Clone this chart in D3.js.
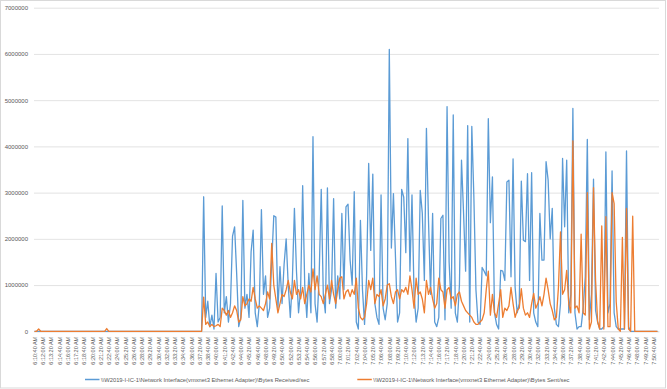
<!DOCTYPE html>
<html>
<head>
<meta charset="utf-8">
<script src="https://cdn.jsdelivr.net/npm/d3@7"></script>
<style>
  body { margin: 0; background: #fff; }
  svg { display: block; font-family: "Liberation Sans", Arial, sans-serif; }
</style>
</head>
<body>
<div id="chart"></div>
<script>
// one label every 80 s, samples every 20 s starting at 6:10:40 AM
var tickLabels = [
  "6:10:40 AM", "6:12:00 AM", "6:13:20 AM", "6:14:40 AM", "6:16:00 AM", "6:17:20 AM", "6:18:40 AM", "6:20:00 AM",
  "6:21:20 AM", "6:22:40 AM", "6:24:00 AM", "6:25:20 AM", "6:26:40 AM", "6:28:00 AM", "6:29:20 AM", "6:30:40 AM",
  "6:32:00 AM", "6:33:20 AM", "6:34:40 AM", "6:36:00 AM", "6:37:20 AM", "6:38:40 AM", "6:40:00 AM", "6:41:20 AM",
  "6:42:40 AM", "6:44:00 AM", "6:45:20 AM", "6:46:40 AM", "6:48:00 AM", "6:49:20 AM", "6:50:40 AM", "6:52:00 AM",
  "6:53:20 AM", "6:54:40 AM", "6:56:00 AM", "6:57:20 AM", "6:58:40 AM", "7:00:00 AM", "7:01:20 AM", "7:02:40 AM",
  "7:04:00 AM", "7:05:20 AM", "7:06:40 AM", "7:08:00 AM", "7:09:20 AM", "7:10:40 AM", "7:12:00 AM", "7:13:20 AM",
  "7:14:40 AM", "7:16:00 AM", "7:17:20 AM", "7:18:40 AM", "7:20:00 AM", "7:21:20 AM", "7:22:40 AM", "7:24:00 AM",
  "7:25:20 AM", "7:26:40 AM", "7:28:00 AM", "7:29:20 AM", "7:30:40 AM", "7:32:00 AM", "7:33:20 AM", "7:34:40 AM",
  "7:36:00 AM", "7:37:20 AM", "7:38:40 AM", "7:40:00 AM", "7:41:20 AM", "7:42:40 AM", "7:44:00 AM", "7:45:20 AM",
  "7:46:40 AM", "7:48:00 AM", "7:49:20 AM", "7:50:40 AM"
];
var labelStep = 80;   // seconds between labels
var sampleStep = 20;  // seconds between samples
var axisSeconds = 6060; // 606 ten-second categories on the axis

var yTicks = [0, 1000000, 2000000, 3000000, 4000000, 5000000, 6000000, 7000000];

var seriesNames = [
  "\\\\W2019-I-IC-1\\Network Interface(vmxnet3 Ethernet Adapter)\\Bytes Received/sec",
  "\\\\W2019-I-IC-1\\Network Interface(vmxnet3 Ethernet Adapter)\\Bytes Sent/sec"
];

var received = [
  0, 0, 0, 0, 0, 0, 0, 0, 0, 0,
  0, 0, 0, 0, 0, 0, 0, 0, 0, 0,
  0, 0, 0, 0, 0, 0, 0, 0, 0, 0,
  0, 0, 0, 0, 0, 0, 0, 0, 0, 0,
  0, 0, 0, 0, 0, 0, 0, 0, 0, 0,
  0, 0, 0, 0, 0, 0, 0, 0, 0, 0,
  0, 0, 0, 0, 0, 0, 0, 0, 0, 0,
  0, 0, 0, 0, 0, 0, 0, 0, 0, 0,
  0, 0, 2910000, 300000, 650000, 100000, 350000, 50000, 1250000, 200000,
  300000, 2710000, 400000, 750000, 200000, 600000, 2060000, 2260000, 1250000, 100000,
  300000, 2830000, 500000, 800000, 300000, 1720000, 2190000, 400000, 100000, 600000,
  2630000, 800000, 1200000, 300000, 500000, 1500000, 2500000, 2470000, 500000, 1400000,
  600000, 1450000, 2000000, 1000000, 300000, 1100000, 2660000, 1300000, 400000, 900000,
  3150000, 1000000, 300000, 1250000, 400000, 4210000, 600000, 200000, 1200000, 3070000,
  800000, 400000, 3100000, 600000, 900000, 2870000, 500000, 1200000, 700000, 2550000,
  900000, 2690000, 2750000, 1540000, 1000000, 3020000, 200000, 50000, 2400000, 900000,
  150000, 1200000, 3630000, 1750000, 3400000, 600000, 300000, 150000, 2950000, 500000,
  250000, 600000, 6100000, 1800000, 2980000, 1600000, 200000, 400000, 3070000, 2900000,
  1700000, 4170000, 1300000, 2950000, 800000, 200000, 500000, 3050000, 2550000, 1100000,
  4390000, 2400000, 800000, 2550000, 200000, 100000, 300000, 2440000, 2510000, 250000,
  4860000, 1500000, 500000, 4680000, 400000, 200000, 1000000, 3700000, 2560000, 1300000,
  4450000, 200000, 4430000, 2900000, 900000, 200000, 150000, 1380000, 1300000, 1200000,
  4600000, 2350000, 3340000, 400000, 150000, 50000, 1320000, 1300000, 1100000, 3230000,
  3270000, 1180000, 3730000, 950000, 400000, 600000, 3250000, 1970000, 1940000, 3410000,
  1100000, 3430000, 400000, 200000, 100000, 2550000, 1540000, 1540000, 3670000, 3270000,
  2000000, 2660000, 500000, 150000, 100000, 600000, 3740000, 2260000, 3700000, 400000,
  800000, 4820000, 400000, 50000, 100000, 100000, 500000, 1180000, 4150000, 250000,
  800000, 3290000, 450000, 200000, 50000, 50000, 100000, 3880000, 400000, 600000,
  3470000, 400000, 100000, 50000, 50000, 50000, 50000, 3900000, 100000, 0,
  0, 0, 0, 0, 0, 0, 0, 0, 0, 0,
  0, 0, 0
];

var sent = [
  0, 0, 50000, 0, 0, 0, 0, 0, 0, 0,
  0, 0, 0, 0, 0, 0, 0, 0, 0, 0,
  0, 0, 0, 0, 0, 0, 0, 0, 0, 0,
  0, 0, 0, 0, 0, 60000, 0, 0, 0, 0,
  0, 0, 0, 0, 0, 0, 0, 0, 0, 0,
  0, 0, 0, 0, 0, 0, 0, 0, 0, 0,
  0, 0, 0, 0, 0, 0, 0, 0, 0, 0,
  0, 0, 0, 0, 0, 0, 0, 0, 0, 0,
  0, 0, 740000, 150000, 200000, 100000, 150000, 100000, 120000, 150000,
  100000, 500000, 450000, 350000, 450000, 300000, 400000, 550000, 450000, 200000,
  250000, 750000, 550000, 600000, 700000, 650000, 950000, 700000, 500000, 550000,
  500000, 450000, 600000, 850000, 700000, 1900000, 1000000, 700000, 400000, 600000,
  800000, 750000, 900000, 1100000, 850000, 700000, 1100000, 800000, 900000, 700000,
  950000, 600000, 800000, 1000000, 850000, 1350000, 900000, 1200000, 800000, 750000,
  600000, 800000, 1000000, 700000, 1100000, 800000, 600000, 900000, 1150000, 1180000,
  700000, 850000, 900000, 750000, 900000, 800000, 1150000, 500000, 300000, 250000,
  300000, 600000, 1100000, 900000, 1150000, 600000, 800000, 750000, 900000, 550000,
  700000, 1000000, 1030000, 750000, 600000, 850000, 900000, 700000, 900000, 850000,
  950000, 800000, 1200000, 900000, 500000, 1150000, 800000, 850000, 700000, 400000,
  1100000, 800000, 950000, 700000, 500000, 600000, 1150000, 900000, 850000, 500000,
  900000, 950000, 700000, 750000, 550000, 800000, 850000, 650000, 550000, 450000,
  400000, 350000, 300000, 200000, 150000, 150000, 200000, 250000, 400000, 900000,
  1300000, 350000, 800000, 400000, 300000, 600000, 900000, 300000, 500000, 450000,
  550000, 950000, 600000, 300000, 450000, 500000, 920000, 500000, 350000, 400000,
  300000, 600000, 820000, 500000, 600000, 750000, 550000, 800000, 1150000, 900000,
  600000, 450000, 250000, 300000, 950000, 2150000, 800000, 900000, 1320000, 600000,
  400000, 4120000, 500000, 550000, 400000, 2100000, 400000, 350000, 3000000, 50000,
  200000, 3110000, 1100000, 200000, 50000, 2280000, 50000, 2480000, 100000, 100000,
  3000000, 2760000, 640000, 50000, 0, 2030000, 50000, 2660000, 50000, 0,
  2490000, 0, 0, 0, 0, 0, 0, 0, 0, 0,
  0, 0, 0
];

var colors = ["#5B9BD5", "#ED7D31"];

var W = 667, H = 389;
var plot = {left: 34, right: 659, top: 7.7, bottom: 331.3};

var svg = d3.select("#chart")
  .append("svg")
    .attr("width", W)
    .attr("height", H);

svg.append("rect")
  .attr("x", 0).attr("y", 0)
  .attr("width", W).attr("height", H)
  .attr("fill", "#fff");

svg.append("rect")
  .attr("x", 0.5).attr("y", 0.5)
  .attr("width", W - 2).attr("height", H - 1.5)
  .attr("fill", "none")
  .attr("stroke", "#D9D9D9")
  .attr("stroke-width", 1);

var x = d3.scaleLinear().domain([-5, axisSeconds - 5]).range([plot.left, plot.right]);
var y = d3.scaleLinear().domain([0, 7000000]).range([plot.bottom, plot.top]);

// y axis + gridlines
var yAxis = svg.append("g")
  .attr("transform", "translate(" + plot.left + ",0)")
  .call(d3.axisLeft(y)
    .tickValues(yTicks)
    .tickSize(-(plot.right - plot.left))
    .tickPadding(6)
    .tickFormat(d3.format("d")));
yAxis.select(".domain").remove();
yAxis.selectAll("line").attr("stroke", "#D9D9D9").attr("stroke-width", 0.75);
yAxis.selectAll("text").attr("fill", "#595959").style("font-size", "6px");

// x axis with rotated time labels
var labelSeconds = tickLabels.map(function(d, k) { return k * labelStep; });
var xAxis = svg.append("g")
  .attr("transform", "translate(0," + plot.bottom + ")")
  .call(d3.axisBottom(x)
    .tickValues(labelSeconds)
    .tickSize(0)
    .tickFormat(function(d, k) { return tickLabels[k]; }));
xAxis.select(".domain").attr("stroke", "#D9D9D9").attr("stroke-width", 0.75);
xAxis.selectAll("text")
  .attr("transform", "rotate(-90)")
  .attr("x", -5.5)
  .attr("y", 0)
  .attr("dy", "0.35em")
  .attr("fill", "#595959")
  .style("text-anchor", "end")
  .style("font-size", "5.5px");

var line = d3.line()
  .x(function(d, i) { return x(i * sampleStep); })
  .y(function(d) { return y(d); });

[received, sent].forEach(function(series, s) {
  svg.append("path")
    .datum(series)
    .attr("fill", "none")
    .attr("stroke", colors[s])
    .attr("stroke-width", 1.3)
    .attr("stroke-linejoin", "round")
    .attr("d", line);
});

// legend
var legendPos = [85, 357.3];
var legend = svg.selectAll(".legend")
  .data(seriesNames)
  .enter().append("g")
    .attr("class", "legend")
    .attr("transform", function(d, i) { return "translate(" + legendPos[i] + ",379.5)"; });
legend.append("line")
  .attr("x1", 0).attr("x2", 14.5)
  .attr("stroke", function(d, i) { return colors[i]; })
  .attr("stroke-width", 1.5);
legend.append("text")
  .attr("x", 16)
  .attr("dy", "0.35em")
  .attr("fill", "#595959")
  .style("font-size", "5.8px")
  .text(function(d) { return d; });
</script>
</body>
</html>
